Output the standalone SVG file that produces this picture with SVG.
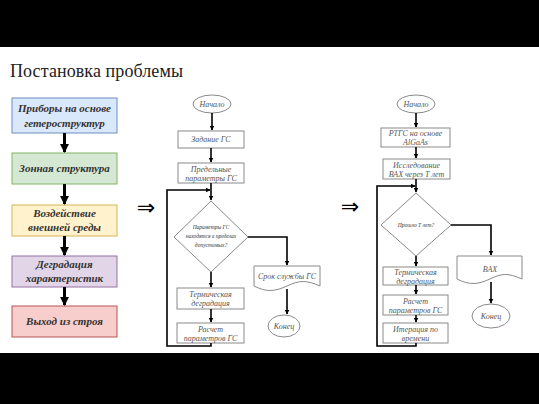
<svg xmlns="http://www.w3.org/2000/svg" width="539" height="404" viewBox="0 0 539 404">
<defs>
<marker id="ah" viewBox="0 0 10 10" refX="9" refY="5" markerWidth="5" markerHeight="5" orient="auto" markerUnits="userSpaceOnUse"><path d="M0,0 L10,5 L0,10 Z" fill="#000"/></marker>
<marker id="ahb" viewBox="0 0 10 10" refX="9" refY="5" markerWidth="9" markerHeight="9" orient="auto" markerUnits="userSpaceOnUse"><path d="M0,0 L10,5 L0,10 Z" fill="#000"/></marker>
</defs>
<style>
.t{font-family:"Liberation Serif","Times New Roman",serif;font-style:italic;fill:#333;text-anchor:middle}
.lb{font-size:11px;font-weight:bold}
.fb{fill:#fff;stroke:#8a8a8a;stroke-width:1}
.ft{font-size:8px;fill:#555}
.ln{fill:none;stroke:#000;stroke-width:1.6}
.la{fill:none;stroke:#000;stroke-width:3}
</style>
<rect x="0" y="0" width="539" height="404" fill="#fff"/>
<rect x="0" y="0" width="539" height="47" fill="#000"/>
<rect x="0" y="353" width="539" height="51" fill="#000"/>
<text x="10" y="77" font-family="Liberation Serif,serif" font-size="18" fill="#222" textLength="173">Постановка проблемы</text>

<g id="b1"><rect x="12" y="98" width="105" height="35" fill="#dae8fc" stroke="#6c8ebf"/><text class="t lb" x="64.5" y="112">Приборы на основе</text><text class="t lb" x="64.5" y="127">гетероструктур</text></g>
<g id="b2"><rect x="12" y="153" width="105" height="31" fill="#d5e8d4" stroke="#82b366"/><text class="t lb" x="64.5" y="172">Зонная структура</text></g>
<g id="b3"><rect x="12" y="205" width="105" height="31" fill="#fff2cc" stroke="#d6b656"/><text class="t lb" x="64.5" y="217">Воздействие</text><text class="t lb" x="64.5" y="231">внешней среды</text></g>
<g id="b4"><rect x="12" y="256" width="105" height="31" fill="#e1d5e7" stroke="#9673a6"/><text class="t lb" x="64.5" y="268">Деградация</text><text class="t lb" x="64.5" y="282">характеристик</text></g>
<g id="b5"><rect x="12" y="306" width="105" height="31" fill="#f8cecc" stroke="#b85450"/><text class="t lb" x="64.5" y="325">Выход из строя</text></g>

<text x="146" y="215" font-family="DejaVu Sans,sans-serif" font-size="22" text-anchor="middle" fill="#000">⇒</text>
<text x="350" y="214" font-family="DejaVu Sans,sans-serif" font-size="22" text-anchor="middle" fill="#000">⇒</text>

<g id="m-start"><ellipse cx="212" cy="104" rx="19" ry="9" class="fb"/><text class="t ft" x="212" y="107">Начало</text></g>
<g id="m-zad"><rect x="178" y="131" width="66" height="17" class="fb"/><text class="t ft" x="211" y="142">Задание ГС</text></g>
<g id="m-pred"><rect x="178" y="163" width="66" height="20" class="fb"/><text class="t ft" x="211" y="172">Предельные</text><text class="t ft" x="211" y="181">параметры ГС</text></g>
<g id="m-dec"><path d="M211,201 L248,237 L211,272 L174,237 Z" class="fb"/><text class="t" font-size="5.5" fill="#555" x="211" y="229">Параметры ГС</text><text class="t" font-size="5.5" fill="#555" x="211" y="238">находятся в пределах</text><text class="t" font-size="5.5" fill="#555" x="211" y="247">допустимых?</text></g>
<g id="m-srok"><path d="M254,266 H320 V286 C306,280 300,280 287,286 C274,292 266,292 254,286 Z" class="fb"/><text class="t ft" x="287" y="279">Срок службы ГС</text></g>
<g id="m-end"><ellipse cx="284" cy="326" rx="16" ry="11" class="fb"/><text class="t ft" x="284" y="329">Конец</text></g>
<g id="m-term"><rect x="177" y="288" width="67" height="21" class="fb"/><text class="t ft" x="210.5" y="297">Термическая</text><text class="t ft" x="210.5" y="306">деградация</text></g>
<g id="m-rasch"><rect x="177" y="323" width="67" height="20" class="fb"/><text class="t ft" x="210.5" y="332">Расчет</text><text class="t ft" x="210.5" y="341">параметров ГС</text></g>

<g id="r-start"><ellipse cx="416" cy="104" rx="19" ry="9" class="fb"/><text class="t ft" x="416" y="107">Начало</text></g>
<g id="r-rtgs"><rect x="381" y="128" width="69" height="19" class="fb"/><text class="t ft" x="415.5" y="136">РТГС на основе</text><text class="t ft" x="415.5" y="145">AlGaAs</text></g>
<g id="r-issl"><rect x="383" y="159" width="67" height="20" class="fb"/><text class="t ft" x="416.5" y="168">Исследование</text><text class="t ft" x="416.5" y="177">ВАХ через Т лет</text></g>
<g id="r-dec"><path d="M416,193 L451,225 L416,256 L381,225 Z" class="fb"/><text class="t" font-size="5.5" fill="#555" x="416" y="227">Прошло Т лет?</text></g>
<g id="r-vah"><path d="M457,256 H522 V279 C508,273 502,273 490,279 C477,285 469,285 457,279 Z" class="fb"/><text class="t ft" x="490" y="272">ВАХ</text></g>
<g id="r-end"><ellipse cx="491" cy="316" rx="19" ry="12" class="fb"/><text class="t ft" x="491" y="319">Конец</text></g>
<g id="r-term"><rect x="383" y="267" width="65" height="18" class="fb"/><text class="t ft" x="415.5" y="275">Термическая</text><text class="t ft" x="415.5" y="284">деградация</text></g>
<g id="r-rasch"><rect x="383" y="295" width="65" height="20" class="fb"/><text class="t ft" x="415.5" y="304">Расчет</text><text class="t ft" x="415.5" y="313">параметров ГС</text></g>
<g id="r-iter"><rect x="383" y="323" width="65" height="20" class="fb"/><text class="t ft" x="415.5" y="332">Итерация по</text><text class="t ft" x="415.5" y="341">времени</text></g>

<g id="connectors">
<path class="la" d="M64.5,133 V152" marker-end="url(#ahb)"/>
<path class="la" d="M64.5,184 V204" marker-end="url(#ahb)"/>
<path class="la" d="M64.5,236 V255" marker-end="url(#ahb)"/>
<path class="la" d="M64.5,287 V305" marker-end="url(#ahb)"/>

<path class="ln" d="M212,113 V130" marker-end="url(#ah)"/>
<path class="ln" d="M211,148 V162" marker-end="url(#ah)"/>
<path class="ln" d="M211,183 V200" marker-end="url(#ah)"/>
<path class="ln" d="M211,272 V287" marker-end="url(#ah)"/>
<path class="ln" d="M211,309 V322" marker-end="url(#ah)"/>
<path class="ln" d="M248,237 H287 V265" marker-end="url(#ah)"/>
<path class="ln" d="M287,289 V314" marker-end="url(#ah)"/>
<path class="ln" d="M211,343 V346 H167 V190 H210" marker-end="url(#ah)"/>

<path class="ln" d="M416,113 V127" marker-end="url(#ah)"/>
<path class="ln" d="M416,147 V158" marker-end="url(#ah)"/>
<path class="ln" d="M416,179 V192" marker-end="url(#ah)"/>
<path class="ln" d="M416,256 V266" marker-end="url(#ah)"/>
<path class="ln" d="M416,285 V294" marker-end="url(#ah)"/>
<path class="ln" d="M416,315 V322" marker-end="url(#ah)"/>
<path class="ln" d="M451,225 H491 V255" marker-end="url(#ah)"/>
<path class="ln" d="M491,282 V303" marker-end="url(#ah)"/>
<path class="ln" d="M416,343 V346 H377 V186 H415" marker-end="url(#ah)"/>
</g>
</svg>
